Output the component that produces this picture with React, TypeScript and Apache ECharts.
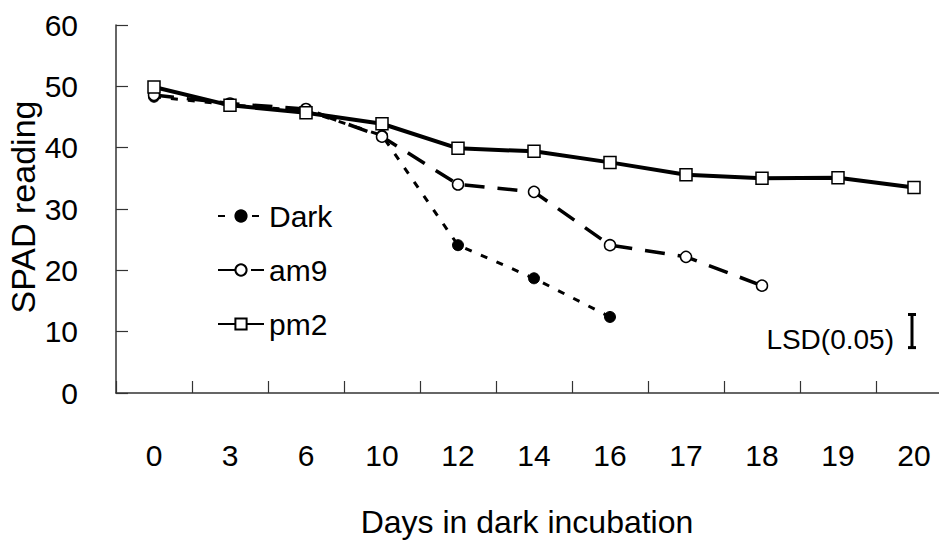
import React, { useEffect, useRef } from "react";
import * as echarts from "echarts";

const days = ["0", "3", "6", "10", "12", "14", "16", "17", "18", "19", "20"];
const darkValues = [48.3, 47.0, 46.0, 42.0, 24.1, 18.7, 12.4, null, null, null, null];
const am9Values = [48.6, 47.2, 46.3, 41.8, 34.0, 32.8, 24.1, 22.2, 17.5, null, null];
const pm2Values = [49.9, 46.9, 45.7, 43.9, 39.9, 39.4, 37.6, 35.6, 35.0, 35.1, 33.5];
const yTicks = [0, 10, 20, 30, 40, 50, 60];
const lsdBar = [["20", 7.4, 12.8]];
const lsdLabel = "LSD(0.05)";
const yTitle = "SPAD reading";
const xTitle = "Days in dark incubation";

const FONT = "'Liberation Sans', Arial, sans-serif";

export default function App() {
  const ref = useRef<HTMLDivElement>(null);
  useEffect(() => {
    if (!ref.current) return;
    const chart = echarts.init(ref.current, null, { renderer: "svg" });
    chart.setOption({
      animation: false,
      backgroundColor: "#ffffff",
      textStyle: { fontFamily: FONT, color: "#000" },
      grid: {
        left: 116,
        top: 25,
        width: 836,
        height: 368,
        containLabel: false,
        outerBoundsMode: "none",
      },
      legend: {
        orient: "vertical",
        left: 212,
        top: 196,
        itemWidth: 46,
        itemHeight: 14,
        itemGap: 24,
        data: ["Dark", "am9", "pm2"],
        textStyle: { fontSize: 30, fontFamily: FONT, color: "#000" },
      },
      xAxis: {
        type: "category",
        data: days,
        boundaryGap: true,
        name: xTitle,
        nameLocation: "middle",
        nameGap: 113,
        nameTextStyle: { fontSize: 32, fontFamily: FONT, color: "#000", padding: [0, 14, 0, 0] },
        axisLine: { lineStyle: { color: "#333", width: 1.5 } },
        axisTick: { show: true, inside: true, length: 12, alignWithLabel: false, lineStyle: { color: "#333", width: 1.2 } },
        axisLabel: { fontSize: 30, margin: 47, color: "#000", fontFamily: FONT },
        splitLine: { show: false },
      },
      yAxis: {
        type: "value",
        min: 0,
        max: 60,
        interval: 10,
        axisLine: { show: true, lineStyle: { color: "#333", width: 1.5 } },
        axisTick: { show: true, inside: true, length: 12, lineStyle: { color: "#333", width: 1.2 } },
        axisLabel: {
          fontSize: 30,
          margin: 38,
          color: "#000",
          fontFamily: FONT,
          formatter: (v: number) => (yTicks.includes(v) ? String(v) : ""),
        },
        splitLine: { show: false },
      },
      graphic: [
        {
          type: "text",
          x: 23,
          y: 207,
          rotation: Math.PI / 2,
          style: {
            text: yTitle,
            fontSize: 34,
            fontFamily: FONT,
            fill: "#000",
            align: "center",
            verticalAlign: "middle",
          },
        },
        {
          type: "text",
          x: 894,
          y: 339,
          style: {
            text: lsdLabel,
            fontSize: 28,
            fontFamily: FONT,
            fill: "#000",
            align: "right",
            verticalAlign: "middle",
          },
        },
      ],
      series: [
        {
          name: "Dark",
          type: "line",
          data: darkValues,
          symbol: "circle",
          symbolSize: 11,
          itemStyle: { color: "#000", borderColor: "#000", borderWidth: 1 },
          lineStyle: { color: "#000", width: 3, type: [7, 10] },
          z: 3,
        },
        {
          name: "am9",
          type: "line",
          data: am9Values,
          symbol: "circle",
          symbolSize: 11,
          itemStyle: { color: "#fff", borderColor: "#000", borderWidth: 1.5 },
          lineStyle: { color: "#000", width: 3.5, type: [20, 13] },
          z: 4,
        },
        {
          name: "pm2",
          type: "line",
          data: pm2Values,
          symbol: "rect",
          symbolSize: 12,
          itemStyle: { color: "#fff", borderColor: "#000", borderWidth: 1.5 },
          lineStyle: { color: "#000", width: 4 },
          z: 5,
        },
        {
          name: "LSD",
          type: "custom",
          data: lsdBar,
          renderItem: (params: any, api: any) => {
            const top = api.coord([api.value(0), api.value(2)]);
            const bot = api.coord([api.value(0), api.value(1)]);
            const x = top[0] - 2;
            const cap = 4;
            const st = { stroke: "#000", lineWidth: 3 };
            return {
              type: "group",
              children: [
                { type: "line", shape: { x1: x, y1: top[1], x2: x, y2: bot[1] }, style: st },
                { type: "line", shape: { x1: x - cap, y1: top[1], x2: x + cap, y2: top[1] }, style: st },
                { type: "line", shape: { x1: x - cap, y1: bot[1], x2: x + cap, y2: bot[1] }, style: st },
              ],
            };
          },
          z: 6,
        },
      ],
    });
    return () => chart.dispose();
  }, []);
  return (
    <div
      style={{
        position: "absolute",
        left: 0,
        top: 0,
        width: 939,
        height: 542,
        overflow: "hidden",
        background: "#fff",
      }}
    >
      <div ref={ref} style={{ width: 990, height: 542 }} />
    </div>
  );
}
